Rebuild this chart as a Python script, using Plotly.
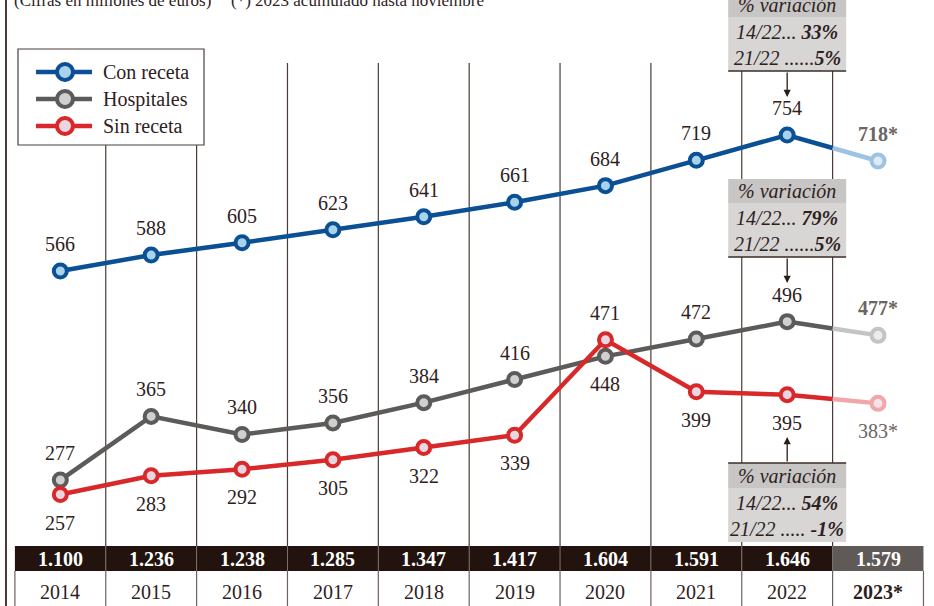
import plotly.graph_objects as go

# ---------------- data ----------------
years = ["2014", "2015", "2016", "2017", "2018", "2019", "2020", "2021", "2022", "2023*"]
con_receta = [566, 588, 605, 623, 641, 661, 684, 719, 754, 718]
hospitales = [277, 365, 340, 356, 384, 416, 448, 472, 496, 477]
sin_receta = [257, 283, 292, 305, 322, 339, 471, 399, 395, 383]
totales = [1100, 1236, 1238, 1285, 1347, 1417, 1604, 1591, 1646, 1579]
series_names = ["Con receta", "Hospitales", "Sin receta"]
var_con = ["33%", "5%"]
var_hosp = ["79%", "5%"]
var_sin = ["54%", "-1%"]
header_left = "(Cifras en millones de euros)"
header_right = "(*) 2023 acumulado hasta noviembre"

# ---------------- styles ----------------
W, H = 934, 606
FONT = "Liberation Serif, DejaVu Serif, serif"
TXT = "#2e211d"
GRID = "#4a3b36"
STAR = "#6b6563"

styles = {
    "Con receta": dict(line="#0b4f95", fill="#a9d3ea", fline="#9dc3e3", ffill="#dcebf6"),
    "Hospitales": dict(line="#5d5b59", fill="#d0d0d0", fline="#c4c4c4", ffill="#ececec"),
    "Sin receta": dict(line="#d8282a", fill="#ead6e1", fline="#f1a7a9", ffill="#f4e4ea"),
}
label_pos = {
    "Con receta": ["a"] * 10,
    "Hospitales": ["a"] * 6 + ["b"] + ["a"] * 3,
    "Sin receta": ["b"] * 6 + ["a"] + ["b"] * 3,
}


def py(p):
    return 1 - p / H


def px(p):
    return p / W


def ann(**kw):
    d = dict(showarrow=False, xanchor="center", yanchor="middle")
    d.update(kw)
    return d


idx = list(range(len(years)))
fig = go.Figure()

annotations = []
shapes = []

for name, vals in zip(series_names, [con_receta, hospitales, sin_receta]):
    st = styles[name]
    mid = (vals[8] + vals[9]) / 2
    fig.add_trace(go.Scatter(x=idx[:9] + [8.5], y=vals[:9] + [mid], mode="lines",
                             line=dict(color=st["line"], width=4.5), showlegend=False, hoverinfo="skip"))
    fig.add_trace(go.Scatter(x=[8.5, 9], y=[mid, vals[9]], mode="lines",
                             line=dict(color=st["fline"], width=4.5), showlegend=False, hoverinfo="skip"))
    fig.add_trace(go.Scatter(x=idx[:9], y=vals[:9], mode="markers",
                             marker=dict(size=13, color=st["fill"], line=dict(color=st["line"], width=4)),
                             showlegend=False))
    fig.add_trace(go.Scatter(x=[9], y=[vals[9]], mode="markers",
                             marker=dict(size=13, color=st["ffill"], line=dict(color=st["fline"], width=4)),
                             showlegend=False))
    for i, v in enumerate(vals):
        up = label_pos[name][i] == "a"
        if i == 9:
            bold = name != "Sin receta"
            txt = f"<b>{v}*</b>" if bold else f"{v}*"
            col = STAR
        else:
            txt = str(v)
            col = TXT
        annotations.append(ann(x=i, y=v, xref="x", yref="y", text=txt,
                               yshift=27 if up else -28, font=dict(size=20, color=col, family=FONT)))

# ---------------- vertical grid lines ----------------
for k in range(9):
    shapes.append(dict(type="line", xref="x", yref="paper", x0=k + 0.5, x1=k + 0.5,
                       y0=py(63), y1=py(546), line=dict(color=GRID, width=1.2), layer="below"))

# left frame line
shapes.append(dict(type="line", xref="paper", yref="paper", x0=px(6), x1=px(6), y0=0, y1=1,
                   line=dict(color="#4a3a35", width=2)))

# ---------------- table ----------------
for i in idx:
    shapes.append(dict(type="rect", xref="x", yref="paper", x0=i - 0.5, x1=i + 0.5,
                       y0=py(571), y1=py(546), fillcolor="#5f5a57" if i == 9 else "#22130e",
                       line=dict(width=0), layer="above"))
    annotations.append(ann(x=i, y=py(559), xref="x", yref="paper",
                           text="<b>" + f"{totales[i]:,}".replace(",", ".") + "</b>",
                           font=dict(size=20, color="white", family=FONT)))
    ytxt = f"<b>{years[i]}</b>" if i == 9 else years[i]
    annotations.append(ann(x=i, y=py(592), xref="x", yref="paper", text=ytxt,
                           font=dict(size=20, color=TXT, family=FONT)))
for k in range(9):
    shapes.append(dict(type="line", xref="x", yref="paper", x0=k + 0.5, x1=k + 0.5,
                       y0=py(546), y1=py(571), line=dict(color="#7d706b", width=1), layer="above"))
for k in range(-1, 10):
    shapes.append(dict(type="line", xref="x", yref="paper", x0=k + 0.5, x1=k + 0.5,
                       y0=py(571), y1=py(606), line=dict(color="#6e625e", width=1.2), layer="above"))

# ---------------- variation boxes ----------------
boxes = [
    dict(ht=-12, hb=17, bb=71, line=71, tip=97, tail=71, vals=var_con, dots=["... ", " ......"]),
    dict(ht=179, hb=203, bb=257, line=257, tip=283, tail=257, vals=var_hosp, dots=["... ", " ......"]),
    dict(ht=463, hb=488, bb=542, line=463, tip=437, tail=463, vals=var_sin, dots=["... ", " ..... "]),
]
for b in boxes:
    shapes.append(dict(type="rect", xref="x", yref="paper", xsizemode="pixel", xanchor=8, x0=-59, x1=59,
                       y0=py(b["hb"]), y1=py(b["ht"]), fillcolor="#c7c6c4", line=dict(width=0), layer="above"))
    shapes.append(dict(type="rect", xref="x", yref="paper", xsizemode="pixel", xanchor=8, x0=-59, x1=59,
                       y0=py(b["bb"]), y1=py(b["hb"]), fillcolor="#d7d6d5", line=dict(width=0), layer="above"))
    shapes.append(dict(type="line", xref="x", yref="paper", xsizemode="pixel", xanchor=8, x0=-59, x1=59,
                       y0=py(b["line"]), y1=py(b["line"]), line=dict(color="#3b2c27", width=1.5), layer="above"))
    hc = (b["ht"] + b["hb"]) / 2 if b["ht"] > 0 else 5
    annotations.append(ann(x=8, y=py(hc), xref="x", yref="paper", text="<i>% variación</i>",
                           font=dict(size=20, color=TXT, family=FONT)))
    r1 = b["hb"] + (b["bb"] - b["hb"]) * 0.28
    r2 = b["hb"] + (b["bb"] - b["hb"]) * 0.76
    annotations.append(ann(x=8, y=py(r1), xref="x", yref="paper",
                           text=f"<i>14/22{b['dots'][0]}<b>{b['vals'][0]}</b></i>",
                           font=dict(size=20, color=TXT, family=FONT)))
    annotations.append(ann(x=8, y=py(r2), xref="x", yref="paper",
                           text=f"<i>21/22{b['dots'][1]}<b>{b['vals'][1]}</b></i>",
                           font=dict(size=20, color=TXT, family=FONT)))
    annotations.append(dict(x=8, y=py(b["tip"]), xref="x", yref="paper", text="", showarrow=True,
                            ax=0, ay=b["tail"] - b["tip"], axref="pixel", ayref="pixel",
                            arrowhead=2, arrowsize=1.1, arrowwidth=1.3, arrowcolor="#2b1d18", standoff=0))

# ---------------- legend ----------------
shapes.append(dict(type="rect", xref="paper", yref="paper", x0=px(18), x1=px(204), y0=py(145), y1=py(49),
                   fillcolor="white", line=dict(color="#4a403c", width=1.2), layer="above"))
for j, name in enumerate(series_names):
    st = styles[name]
    yy = [72, 99, 126][j]
    shapes.append(dict(type="line", xref="paper", yref="paper", x0=px(36), x1=px(92), y0=py(yy), y1=py(yy),
                       line=dict(color=st["line"], width=4.5), layer="above"))
    shapes.append(dict(type="circle", xref="paper", yref="paper", xsizemode="pixel", ysizemode="pixel",
                       xanchor=px(65), yanchor=py(yy), x0=-8, x1=8, y0=-8, y1=8,
                       fillcolor=st["fill"], line=dict(color=st["line"], width=4), layer="above"))
    annotations.append(ann(x=px(101), y=py(yy), xref="paper", yref="paper", text=name, xanchor="left",
                           font=dict(size=20, color=TXT, family=FONT)))

# ---------------- header ----------------
annotations.append(ann(x=px(12), y=py(0), xref="paper", yref="paper", text=header_left, xanchor="left",
                       font=dict(size=17, color=TXT, family=FONT)))
annotations.append(ann(x=px(229), y=py(0), xref="paper", yref="paper", text=header_right, xanchor="left",
                       font=dict(size=17, color=TXT, family=FONT)))

fig.update_layout(
    width=W, height=H,
    margin=dict(l=0, r=0, t=0, b=0),
    paper_bgcolor="white", plot_bgcolor="white",
    xaxis=dict(range=[-0.664, 9.616], visible=False, fixedrange=True),
    yaxis=dict(range=[102.9, 940.6], visible=False, fixedrange=True),
    shapes=shapes, annotations=annotations,
    showlegend=False,
    font=dict(family=FONT, color=TXT),
)

fig.write_html("out.html", config={"displayModeBar": False},
               post_script="document.body.style.margin='0';document.body.style.overflow='hidden';")
